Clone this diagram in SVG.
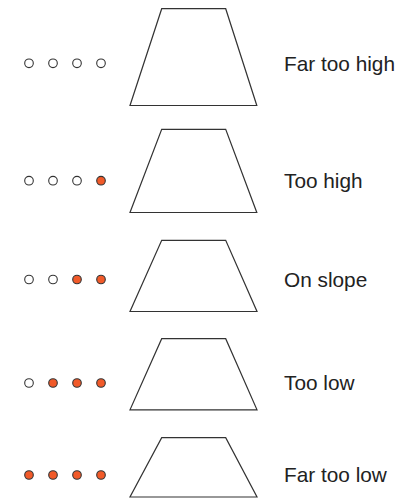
<svg xmlns="http://www.w3.org/2000/svg" width="411" height="498" viewBox="0 0 411 498">
  <style>
    .trap { fill: #ffffff; stroke: #333333; stroke-width: 1.2; stroke-linejoin: miter; }
    .off { fill: #ffffff; stroke: #333333; stroke-width: 1.1; }
    .on { fill: #f15a29; stroke: #333333; stroke-width: 1.1; }
    .lbl { font-family: "Liberation Sans", Arial, sans-serif; font-size: 20.8px; fill: #222222; }
  </style>
  <rect width="411" height="498" fill="#ffffff"/>
  <g id="far-too-high">
    <circle class="off" cx="29" cy="63.3" r="4.3"/>
    <circle class="off" cx="53" cy="63.3" r="4.3"/>
    <circle class="off" cx="77" cy="63.3" r="4.3"/>
    <circle class="off" cx="101" cy="63.3" r="4.3"/>
    <polygon class="trap" points="161.7,8.7 225.7,8.7 256.8,105.5 130,105.5"/>
    <text class="lbl" x="284" y="70.8">Far too high</text>
  </g>
  <g id="too-high">
    <circle class="off" cx="29" cy="180.7" r="4.3"/>
    <circle class="off" cx="53" cy="180.7" r="4.3"/>
    <circle class="off" cx="77" cy="180.7" r="4.3"/>
    <circle class="on" cx="101" cy="180.7" r="4.3"/>
    <polygon class="trap" points="161.7,129.3 225.7,129.3 256.8,212.5 130,212.5"/>
    <text class="lbl" x="284" y="188">Too high</text>
  </g>
  <g id="on-slope">
    <circle class="off" cx="29" cy="279.5" r="4.3"/>
    <circle class="off" cx="53" cy="279.5" r="4.3"/>
    <circle class="on" cx="77" cy="279.5" r="4.3"/>
    <circle class="on" cx="101" cy="279.5" r="4.3"/>
    <polygon class="trap" points="161.7,240.3 225.7,240.3 257,311.5 130,311.5"/>
    <text class="lbl" x="284" y="287">On slope</text>
  </g>
  <g id="too-low">
    <circle class="off" cx="29" cy="383" r="4.3"/>
    <circle class="on" cx="53" cy="383" r="4.3"/>
    <circle class="on" cx="77" cy="383" r="4.3"/>
    <circle class="on" cx="101" cy="383" r="4.3"/>
    <polygon class="trap" points="161.7,338.7 225.7,338.7 257,409.8 130,409.8"/>
    <text class="lbl" x="284" y="390.4">Too low</text>
  </g>
  <g id="far-too-low">
    <circle class="on" cx="29" cy="475" r="4.3"/>
    <circle class="on" cx="53" cy="475" r="4.3"/>
    <circle class="on" cx="77" cy="475" r="4.3"/>
    <circle class="on" cx="101" cy="475" r="4.3"/>
    <polygon class="trap" points="161.7,437.7 225.7,437.7 257,497 130,497"/>
    <text class="lbl" x="284" y="482.2">Far too low</text>
  </g>
</svg>
